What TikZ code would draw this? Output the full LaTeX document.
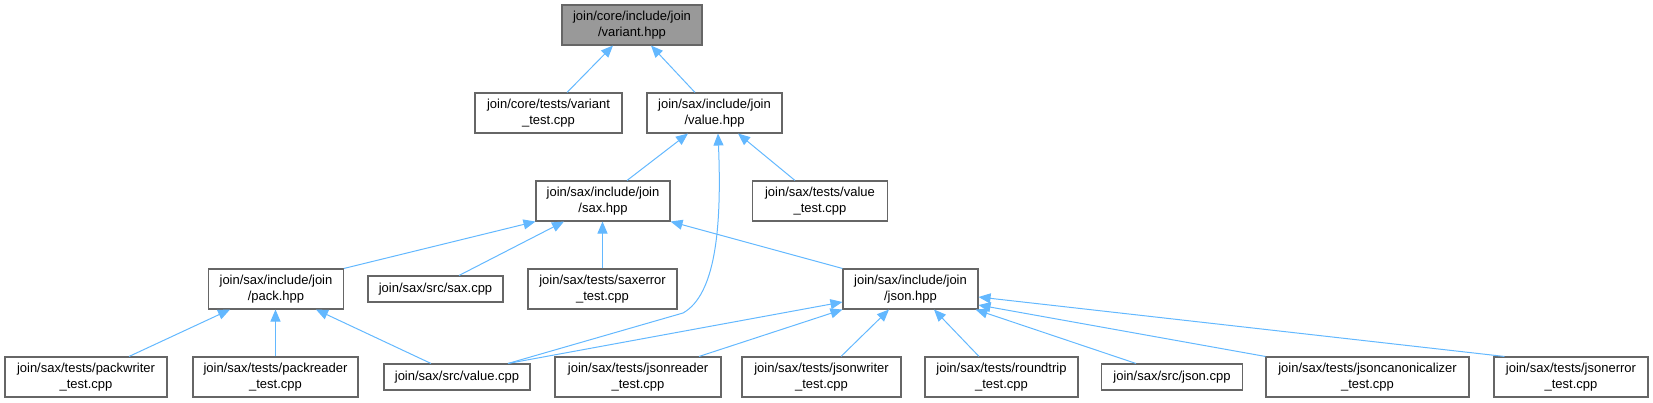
\documentclass[tikz,border=0pt]{standalone}
\usepackage{fontspec}
\setmainfont{Liberation Sans}
\usetikzlibrary{arrows.meta,calc}

\definecolor{edgeblue}{HTML}{63B8FF}
\definecolor{boxgray}{HTML}{666666}
\definecolor{rootgray}{HTML}{999999}

\tikzset{
  file/.style={draw=boxgray, fill=white, align=center, inner sep=0pt,
    minimum height=30pt, line width=0.8pt,
    font=\fontsize{9.75}{11.8}\selectfont},
  single/.style={file, minimum height=19.5pt},
  root/.style={file, fill=rootgray},
  link/.style={draw=edgeblue, line width=0.75pt,
    -{Triangle[length=9pt,width=7.5pt]}}
}

\begin{document}
\begin{tikzpicture}[x=0.75pt,y=-0.75pt]
  \useasboundingbox (0,0) rectangle (1653,403);

  \node[root, minimum width=105pt] (variant) at (632,25) {join/core/include/join\\/variant.hpp};

  \node[file, minimum width=110.25pt] (vtest) at (548.5,113) {join/core/tests/variant\\\_test.cpp};
  \node[file, minimum width=101.25pt] (value) at (714.5,113) {join/sax/include/join\\/value.hpp};

  \node[file, minimum width=100.5pt] (sax) at (603,201) {join/sax/include/join\\/sax.hpp};
  \node[file, minimum width=101pt] (valtest) at (820,201) {join/sax/tests/value\\\_test.cpp};

  \node[file, minimum width=101pt] (pack) at (276,289) {join/sax/include/join\\/pack.hpp};
  \node[single, minimum width=101.25pt] (saxcpp) at (435.5,289) {join/sax/src/sax.cpp};
  \node[file, minimum width=111.75pt] (saxerr) at (602.5,289) {join/sax/tests/saxerror\\\_test.cpp};
  \node[file, minimum width=101.25pt] (json) at (910.5,289) {join/sax/include/join\\/json.hpp};

  \node[file, minimum width=121.5pt] (packw) at (86,377) {join/sax/tests/packwriter\\\_test.cpp};
  \node[file, minimum width=123.75pt] (packr) at (275.5,377) {join/sax/tests/packreader\\\_test.cpp};
  \node[single, minimum width=109.5pt] (valcpp) at (457,377) {join/sax/src/value.cpp};
  \node[file, minimum width=124.5pt] (jsonr) at (638,377) {join/sax/tests/jsonreader\\\_test.cpp};
  \node[file, minimum width=119.25pt] (jsonw) at (821.5,377) {join/sax/tests/jsonwriter\\\_test.cpp};
  \node[file, minimum width=114.75pt] (round) at (1001.5,377) {join/sax/tests/roundtrip\\\_test.cpp};
  \node[single, minimum width=105.4pt] (jsoncpp) at (1172,377) {join/sax/src/json.cpp};
  \node[file, minimum width=152.25pt] (jsoncanon) at (1367.5,377) {join/sax/tests/jsoncanonicalizer\\\_test.cpp};
  \node[file, minimum width=115.5pt] (jsonerr) at (1571,377) {join/sax/tests/jsonerror\\\_test.cpp};

  \draw[link] ($(vtest.north)+(18.5,0)$) -- ($(variant.south)+(-19,0)$);
  \draw[link] ($(value.north)+(-19.5,0)$) -- ($(variant.south)+(19,0)$);

  \draw[link] ($(sax.north)+(24,0)$) -- ($(value.south)+(-26.5,0)$);
  \draw[link] ($(valcpp.north)+(51,0)$) -- (683,313)
    .. controls (715,295) and (722,230) .. ($(value.south)+(3.5,0)$);
  \draw[link] ($(valtest.north)+(-25,0)$) -- ($(value.south)+(23.5,0)$);

  \draw[link] (pack.north east) -- (sax.south west);
  \draw[link] ($(saxcpp.north)+(23.5,0)$) -- ($(sax.south)+(-39,0)$);
  \draw[link] (saxerr.north) -- (saxerr.north |- sax.south);
  \draw[link] (json.north west) -- (sax.south east);

  \draw[link] ($(packw.north)+(43,0)$) -- ($(pack.south)+(-46,0)$);
  \draw[link] (packr.north) -- (packr.north |- pack.south);
  \draw[link] ($(valcpp.north)+(-26,0)$) -- ($(pack.south)+(40,0)$);

  \draw[link] ($(valcpp.north)+(51,0)$) -- ($(json.west)+(0,13)$);
  \draw[link] ($(jsonr.north)+(61,0)$) -- (json.south west);
  \draw[link] ($(jsonw.north)+(19.5,0)$) -- ($(json.south)+(-21.5,0)$);
  \draw[link] ($(round.north)+(-22.5,0)$) -- ($(json.south)+(23.5,0)$);
  \draw[link] ($(jsoncpp.north)+(-36,0)$) -- ($(json.south east)+(-3,0)$);
  \draw[link] (jsoncanon.north west) -- ($(json.east)+(0,16)$);
  \draw[link] ($(jsonerr.north west)+(11,0)$) -- ($(json.east)+(0,8)$);
\end{tikzpicture}
\end{document}
